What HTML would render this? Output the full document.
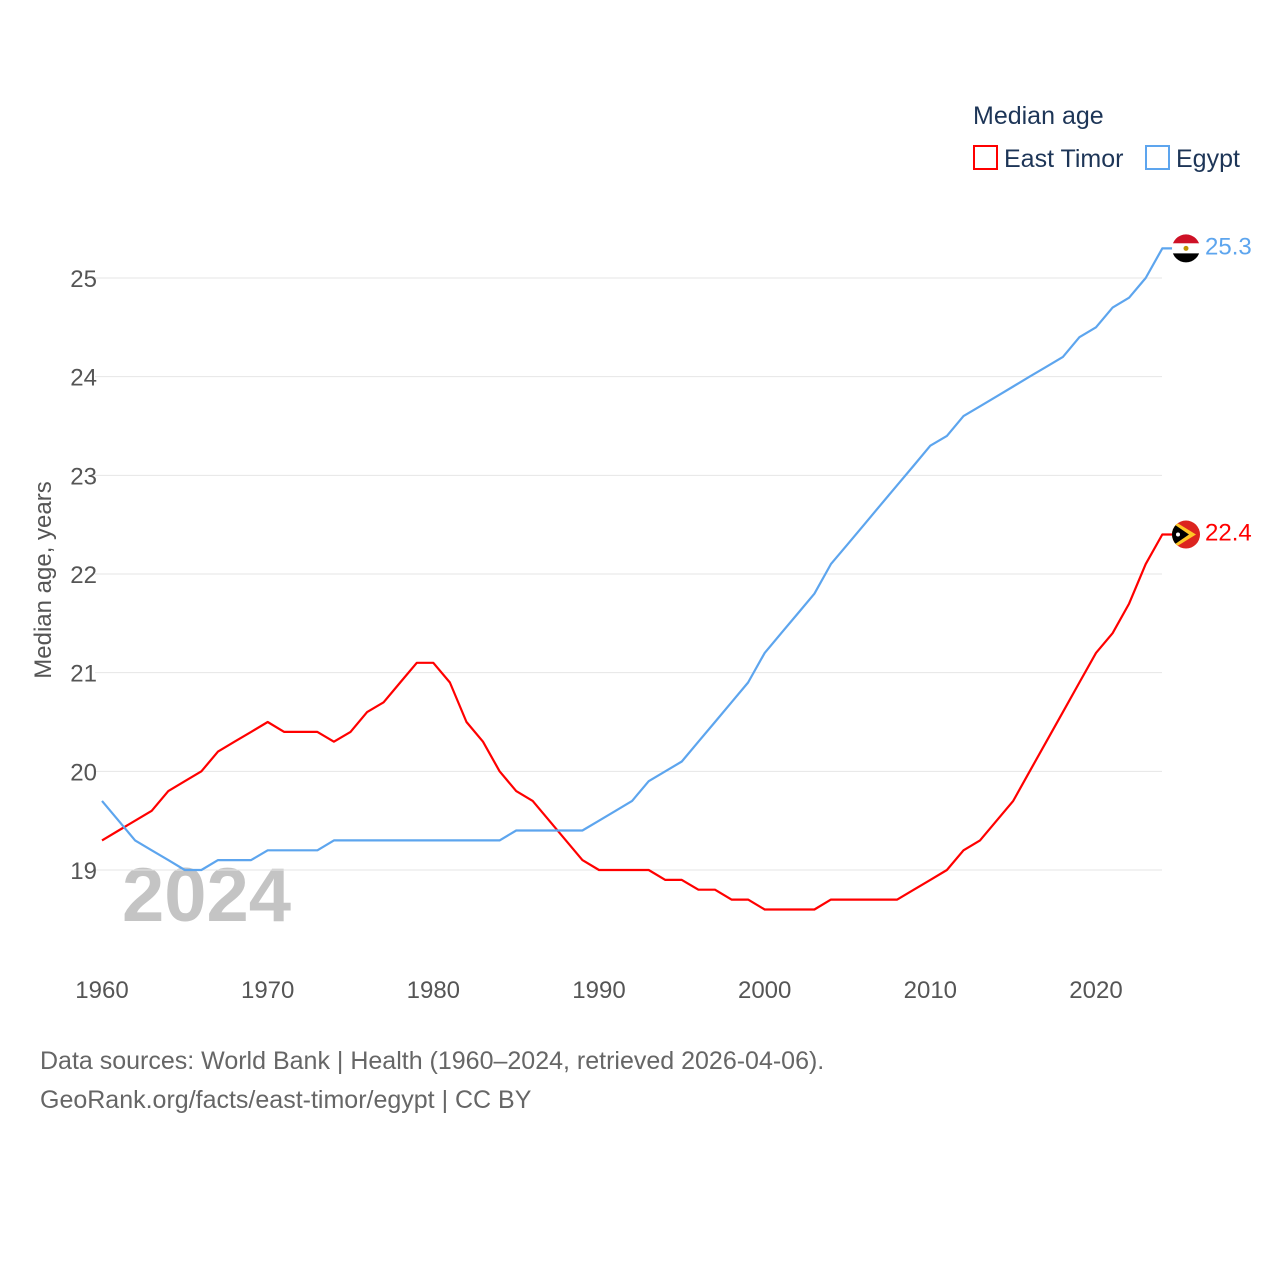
<!DOCTYPE html>
<html><head><meta charset="utf-8"><style>
body{margin:0;background:#fff;width:1280px;height:1280px;overflow:hidden;font-family:"Liberation Sans",sans-serif}
</style></head><body>
<svg id="chart" width="1280" height="1280" xmlns="http://www.w3.org/2000/svg">
<g>
<text x="973" y="124" font-size="25" fill="#1d3557">Median age</text>
<rect x="974" y="146" width="23" height="23" fill="none" stroke="#ff0000" stroke-width="2"/>
<text x="1004" y="167" font-size="25" fill="#1d3557">East Timor</text>
<rect x="1146" y="146" width="23" height="23" fill="none" stroke="#5da5ee" stroke-width="2"/>
<text x="1176" y="167" font-size="25" fill="#1d3557">Egypt</text>
</g>
<text transform="translate(51,580) rotate(-90)" text-anchor="middle" font-size="24" fill="#555">Median age, years</text>
<text x="122" y="921" font-size="76" font-weight="bold" fill="#c4c4c4">2024</text>
<defs id="defs"></defs>
<g id="grid"></g><g id="lines"></g><g id="ends"></g>
<text x="40" y="1069" font-size="25" fill="#666">Data sources: World Bank | Health (1960–2024, retrieved 2026-04-06).</text>
<text x="40" y="1108" font-size="25" fill="#666">GeoRank.org/facts/east-timor/egypt | CC BY</text>
</svg>
<script>
const years=[];for(let y=1960;y<=2024;y++)years.push(y);
const eastTimor=[19.3,19.4,19.5,19.6,19.8,19.9,20.0,20.2,20.3,20.4,20.5,20.4,20.4,20.4,20.3,20.4,20.6,20.7,20.9,21.1,21.1,20.9,20.5,20.3,20.0,19.8,19.7,19.5,19.3,19.1,19.0,19.0,19.0,19.0,18.9,18.9,18.8,18.8,18.7,18.7,18.6,18.6,18.6,18.6,18.7,18.7,18.7,18.7,18.7,18.8,18.9,19.0,19.2,19.3,19.5,19.7,20.0,20.3,20.6,20.9,21.2,21.4,21.7,22.1,22.4];
const egypt=[19.7,19.5,19.3,19.2,19.1,19.0,19.0,19.1,19.1,19.1,19.2,19.2,19.2,19.2,19.3,19.3,19.3,19.3,19.3,19.3,19.3,19.3,19.3,19.3,19.3,19.4,19.4,19.4,19.4,19.4,19.5,19.6,19.7,19.9,20.0,20.1,20.3,20.5,20.7,20.9,21.2,21.4,21.6,21.8,22.1,22.3,22.5,22.7,22.9,23.1,23.3,23.4,23.6,23.7,23.8,23.9,24.0,24.1,24.2,24.4,24.5,24.7,24.8,25.0,25.3];
const yTicks=[19,20,21,22,23,24,25];
const xTicks=[1960,1970,1980,1990,2000,2010,2020];
const X=y=>102+(y-1960)*994/60;
const Y=v=>870-(v-19)*98.67;
const NS="http://www.w3.org/2000/svg";
function mk(t,a,p){const e=document.createElementNS(NS,t);for(const k in a)e.setAttribute(k,a[k]);p.appendChild(e);return e;}
const grid=document.getElementById('grid');
yTicks.forEach(v=>{
 const l=mk('line',{x1:95,x2:1162,y1:Y(v),y2:Y(v),stroke:'#e6e6e6','stroke-width':1},grid);
 
 
 const t=mk('text',{x:97,y:Y(v)+9,'text-anchor':'end','font-size':24,fill:'#555'},grid);t.textContent=v;
 
 
});
xTicks.forEach(v=>{
 const t=mk('text',{x:X(v),y:998,'text-anchor':'middle','font-size':24,fill:'#555'},grid);t.textContent=v;
 
 
});
const lines=document.getElementById('lines'),ends=document.getElementById('ends'),defs=document.getElementById('defs');
function series(vals,color,name){
 let d=vals.map((v,i)=>(i?'L':'M')+X(years[i]).toFixed(1)+','+Y(v).toFixed(1)).join('');
 const last=vals[vals.length-1];
 d+='L1186,'+Y(last).toFixed(1);
 const p=mk('path',{d:d,fill:'none',stroke:color,'stroke-width':2.2,'stroke-linejoin':'round'},lines);
 
 
 const cp=mk('clipPath',{id:'clip-'+name},defs);
 mk('circle',{cx:1186,cy:Y(last),r:14},cp);
 const t=mk('text',{x:1205,y:Y(last)+6,'font-size':24,fill:color},ends);t.textContent=last.toFixed(1);
 
 
 const g=mk('g',{'clip-path':'url(#clip-'+name+')'},ends);
 
 
 return g;
}
const tg=series(eastTimor,'#ff0000','east-timor');
const eg=series(egypt,'#5da5ee','egypt');
const ey=Y(egypt[egypt.length-1]);
mk('rect',{x:1170,y:ey-16,width:32,height:11,fill:'#ce1126'},eg);
mk('rect',{x:1170,y:ey-5,width:32,height:10,fill:'#fff'},eg);
mk('rect',{x:1170,y:ey+5,width:32,height:12,fill:'#000'},eg);
mk('circle',{cx:1186,cy:ey,r:2.5,fill:'#c09300'},eg);
const ty=Y(eastTimor[eastTimor.length-1]);
mk('rect',{x:1170,y:ty-16,width:32,height:32,fill:'#dc241f'},tg);
mk('path',{d:`M1170,${ty-16}L1196,${ty}L1170,${ty+16}Z`,fill:'#ffc726'},tg);
mk('path',{d:`M1170,${ty-13}L1189,${ty}L1170,${ty+13}Z`,fill:'#000'},tg);
mk('circle',{cx:1178,cy:ty,r:2,fill:'#fff'},tg);
</script>
</body></html>
